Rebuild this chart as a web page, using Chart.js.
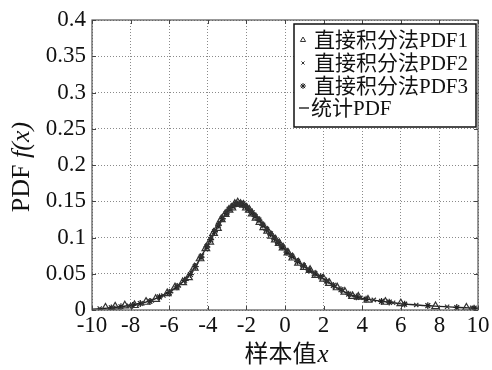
<!DOCTYPE html>
<html>
<head>
<meta charset="utf-8">
<script src="https://cdn.jsdelivr.net/npm/chart.js@4/dist/chart.umd.min.js"></script>
<style>
html,body{margin:0;padding:0;background:#fff;}
#wrap{width:492px;height:370px;position:relative;}
</style>
</head>
<body>
<div id="wrap"><canvas id="c" width="492" height="370"></canvas></div>
<script>
// ---- data ----
const xTickValues = [-10,-8,-6,-4,-2,0,2,4,6,8,10];
const xTickLabels = ['-10','-8','-6','-4','-2','0','2','4','6','8','10'];
const yTickValues = [0,0.05,0.1,0.15,0.2,0.25,0.3,0.35,0.4];
const yTickLabels = ['0','0.05','0.1','0.15','0.2','0.25','0.3','0.35','0.4'];

const seriesNames = ['直接积分法PDF1','直接积分法PDF2','直接积分法PDF3','统计PDF'];
const xTitleMain = '样本值';
const xTitleVar = 'x';
const yTitleMain = 'PDF ';
const yTitleVar = 'f(x)';

// statistical PDF curve
const statX = [-10,-9.5,-9,-8.5,-8,-7.5,-7,-6.5,-6,-5.5,-5,-4.75,-4.5,-4.25,-4,-3.75,-3.5,-3.25,-3,-2.75,-2.5,-2.25,-2,-1.75,-1.5,-1.25,-1,-0.75,-0.5,-0.25,0,0.25,0.5,0.75,1,1.25,1.5,1.75,2,2.5,3,3.5,4,4.5,5,5.5,6,6.5,7,7.5,8,8.5,9,9.5,10];
const statY = [0.0012,0.002,0.003,0.0045,0.0065,0.009,0.0125,0.018,0.025,0.034,0.047,0.056,0.066,0.078,0.090,0.103,0.115,0.126,0.135,0.142,0.147,0.147,0.142,0.136,0.129,0.121,0.113,0.105,0.098,0.091,0.084,0.077,0.071,0.065,0.060,0.055,0.051,0.047,0.043,0.034,0.026,0.020,0.016,0.014,0.012,0.0105,0.0085,0.0075,0.0065,0.0058,0.005,0.0043,0.0035,0.003,0.0025];

// direct integration PDF1 (triangles)
const pdf1X = [-9.3,-8.8,-8.3,-7.8,-7.2,-6.7,-6.1,-5.7,-5.3,-5.0,-4.7,-4.4,-4.1,-3.9,-3.7,-3.5,-3.3,-3.1,-2.9,-2.75,-2.6,-2.45,-2.3,-2.15,-2.0,-1.85,-1.7,-1.5,-1.3,-1.1,-0.9,-0.7,-0.5,-0.3,-0.1,0.15,0.4,0.7,1.0,1.3,1.6,2.0,2.3,2.7,3.1,3.5,3.8,4.3,5.2,6.0,7.8,9.4];
const pdf1Y = [0.003,0.0045,0.006,0.0065,0.011,0.015,0.023,0.031,0.038,0.045,0.058,0.071,0.085,0.094,0.106,0.113,0.125,0.132,0.138,0.141,0.146,0.148,0.146,0.145,0.141,0.138,0.133,0.127,0.121,0.114,0.109,0.102,0.097,0.092,0.086,0.079,0.072,0.065,0.059,0.055,0.048,0.043,0.037,0.031,0.025,0.019,0.018,0.014,0.011,0.009,0.005,0.003];

// direct integration PDF2 (x marks)
const pdf2X = [-9.6,-8.9,-8.1,-7.4,-6.9,-6.3,-5.9,-5.5,-5.1,-4.85,-4.6,-4.3,-4.0,-3.8,-3.6,-3.4,-3.2,-3.0,-2.85,-2.7,-2.55,-2.4,-2.25,-2.1,-1.95,-1.8,-1.6,-1.4,-1.2,-1.0,-0.8,-0.6,-0.4,-0.2,0.05,0.3,0.6,0.9,1.2,1.5,1.9,2.2,2.6,3.0,3.4,3.9,4.6,5.6,6.8,8.4,9.7];
const pdf2Y = [0.002,0.003,0.006,0.009,0.013,0.020,0.026,0.034,0.043,0.051,0.062,0.075,0.089,0.100,0.110,0.119,0.128,0.134,0.140,0.144,0.147,0.148,0.147,0.144,0.141,0.137,0.131,0.126,0.119,0.112,0.106,0.100,0.094,0.089,0.082,0.076,0.069,0.062,0.056,0.050,0.045,0.039,0.032,0.027,0.021,0.017,0.014,0.010,0.007,0.0045,0.003];

// direct integration PDF3 (stars)
const pdf3X = [-9.0,-8.5,-7.9,-7.5,-7.0,-6.5,-6.0,-5.6,-5.2,-4.9,-4.65,-4.35,-4.05,-3.85,-3.65,-3.45,-3.25,-3.05,-2.9,-2.7,-2.55,-2.35,-2.2,-2.05,-1.9,-1.7,-1.55,-1.35,-1.15,-0.95,-0.75,-0.55,-0.35,-0.15,0.1,0.35,0.65,0.95,1.25,1.55,1.85,2.15,2.5,2.9,3.3,3.7,4.2,5.0,5.4,6.2,7.4,8.9,9.8];
const pdf3Y = [0.003,0.0045,0.0065,0.009,0.012,0.018,0.024,0.032,0.041,0.049,0.060,0.073,0.087,0.097,0.108,0.117,0.126,0.133,0.139,0.143,0.146,0.147,0.146,0.143,0.139,0.134,0.129,0.124,0.117,0.111,0.105,0.099,0.093,0.087,0.080,0.074,0.067,0.061,0.055,0.050,0.046,0.040,0.034,0.028,0.022,0.018,0.015,0.012,0.011,0.008,0.006,0.0035,0.0025];

// ---- build ----
const pairs = (xs, ys) => xs.map((x, i) => ({x: x, y: ys[i]}));
const SERIF = "'Liberation Serif', 'Noto Sans CJK SC', serif";
const markColor = '#333';

const styles = [
  {pointStyle:'triangle', radius:4.4, borderColor:markColor, backgroundColor:'rgba(255,255,255,0)', borderWidth:1.2},
  {pointStyle:'crossRot', radius:3, borderColor:markColor, backgroundColor:markColor, borderWidth:1.2},
  {pointStyle:'star', radius:3.4, borderColor:'#222', backgroundColor:'#222', borderWidth:1.2}
];

const datasets = [
  {label: seriesNames[3], data: pairs(statX, statY), showLine: true, borderColor:'#222', borderWidth:1.4, pointRadius:0, tension:0.35, order:4},
  {label: seriesNames[0], data: pairs(pdf1X, pdf1Y), showLine:false, pointStyle:styles[0].pointStyle, pointRadius:styles[0].radius, pointBorderColor:styles[0].borderColor, pointBackgroundColor:styles[0].backgroundColor, pointBorderWidth:styles[0].borderWidth, order:1},
  {label: seriesNames[1], data: pairs(pdf2X, pdf2Y), showLine:false, pointStyle:styles[1].pointStyle, pointRadius:styles[1].radius, pointBorderColor:styles[1].borderColor, pointBackgroundColor:styles[1].backgroundColor, pointBorderWidth:styles[1].borderWidth, order:2},
  {label: seriesNames[2], data: pairs(pdf3X, pdf3Y), showLine:false, pointStyle:styles[2].pointStyle, pointRadius:styles[2].radius, pointBorderColor:styles[2].borderColor, pointBackgroundColor:styles[2].backgroundColor, pointBorderWidth:styles[2].borderWidth, order:3}
];

const framePlugin = {
  id: 'frameAndLegend',
  afterDraw(chart) {
    const ctx = chart.ctx;
    const a = chart.chartArea;
    const xs = chart.scales.x, ys = chart.scales.y;
    ctx.save();
    // frame
    ctx.strokeStyle = '#555';
    ctx.lineWidth = 1.2;
    ctx.strokeRect(a.left, a.top, a.right - a.left, a.bottom - a.top);
    // inward ticks
    ctx.lineWidth = 1;
    ctx.strokeStyle = '#444';
    ctx.beginPath();
    xTickValues.forEach(v => {
      const px = Math.round(xs.getPixelForValue(v)) + 0.5;
      ctx.moveTo(px, a.bottom); ctx.lineTo(px, a.bottom - 4);
      ctx.moveTo(px, a.top); ctx.lineTo(px, a.top + 4);
    });
    yTickValues.forEach(v => {
      const py = Math.round(ys.getPixelForValue(v)) + 0.5;
      ctx.moveTo(a.left, py); ctx.lineTo(a.left + 4, py);
      ctx.moveTo(a.right, py); ctx.lineTo(a.right - 4, py);
    });
    ctx.stroke();

    // legend
    const L = 294, T = 24, R = 476, B = 127;
    ctx.fillStyle = '#fff';
    ctx.fillRect(L, T, R - L, B - T);
    ctx.strokeStyle = '#111';
    ctx.lineWidth = 1.5;
    ctx.strokeRect(L, T, R - L, B - T);
    ctx.font = "21px " + SERIF;
    ctx.fillStyle = '#111';
    ctx.textBaseline = 'middle';
    ctx.textAlign = 'left';
    const rowY = [40, 63, 86, 108];
    const legendRadius = [3, 2.2, 3];
    for (let i = 0; i < 3; i++) {
      const s = styles[i];
      ctx.strokeStyle = s.borderColor;
      ctx.fillStyle = s.backgroundColor;
      ctx.lineWidth = 1;
      Chart.helpers.drawPoint(ctx, {pointStyle: s.pointStyle, radius: legendRadius[i], borderWidth: 1, rotation: 0}, 303, rowY[i]);
      ctx.fillStyle = '#111';
      ctx.fillText(seriesNames[i], 314, rowY[i] + 1);
    }
    ctx.strokeStyle = '#222';
    ctx.lineWidth = 1.4;
    ctx.beginPath();
    ctx.moveTo(299, rowY[3]); ctx.lineTo(309, rowY[3]);
    ctx.stroke();
    ctx.fillStyle = '#111';
    ctx.fillText(seriesNames[3], 311, rowY[3] + 1);

    // x title
    ctx.font = "24px 'Noto Sans CJK SC', sans-serif";
    const w1 = ctx.measureText(xTitleMain).width;
    ctx.font = "italic 25px " + SERIF;
    const w2 = ctx.measureText(xTitleVar).width;
    let x0 = 286 - (w1 + w2) / 2;
    ctx.textBaseline = 'alphabetic';
    ctx.font = "24px 'Noto Sans CJK SC', sans-serif";
    ctx.fillText(xTitleMain, x0, 362);
    ctx.font = "italic 25px " + SERIF;
    ctx.fillText(xTitleVar, x0 + w1 + 1, 362);

    // y title
    ctx.translate(29, 167);
    ctx.rotate(-Math.PI / 2);
    ctx.font = "26px " + SERIF;
    const v1 = ctx.measureText(yTitleMain).width;
    ctx.font = "italic 26px " + SERIF;
    const v2 = ctx.measureText(yTitleVar).width;
    const s0 = -(v1 + v2) / 2;
    ctx.font = "26px " + SERIF;
    ctx.fillText(yTitleMain, s0, 0);
    ctx.font = "italic 26px " + SERIF;
    ctx.fillText(yTitleVar, s0 + v1, 0);
    ctx.restore();
  }
};

new Chart(document.getElementById('c'), {
  type: 'scatter',
  data: {datasets: datasets},
  options: {
    responsive: false,
    animation: false,
    events: [],
    layout: {padding: {top: 20, right: 14, left: 0, bottom: 0}},
    plugins: {legend: {display: false}, tooltip: {enabled: false}},
    scales: {
      x: {
        type: 'linear', min: -10, max: 10,
        afterBuildTicks: s => { s.ticks = xTickValues.map(v => ({value: v})); },
        afterFit: s => { s.height = 60; },
        ticks: {
          font: {family: SERIF, size: 23}, color: '#111', padding: 2,
          maxRotation: 0, autoSkip: false,
          callback: (v) => xTickLabels[xTickValues.indexOf(v)]
        },
        grid: {color: '#8a8a8a', lineWidth: 1, drawTicks: false},
        border: {display: false, dash: [1, 2]}
      },
      y: {
        type: 'linear', min: 0, max: 0.4,
        afterBuildTicks: s => { s.ticks = yTickValues.map(v => ({value: v})); },
        afterFit: s => { s.width = 92; },
        ticks: {
          font: {family: SERIF, size: 23}, color: '#111', padding: 6,
          autoSkip: false,
          callback: (v) => yTickLabels[yTickValues.indexOf(v)]
        },
        grid: {color: '#8a8a8a', lineWidth: 1, drawTicks: false},
        border: {display: false, dash: [1, 2]}
      }
    }
  },
  plugins: [framePlugin]
});
</script>
</body>
</html>
